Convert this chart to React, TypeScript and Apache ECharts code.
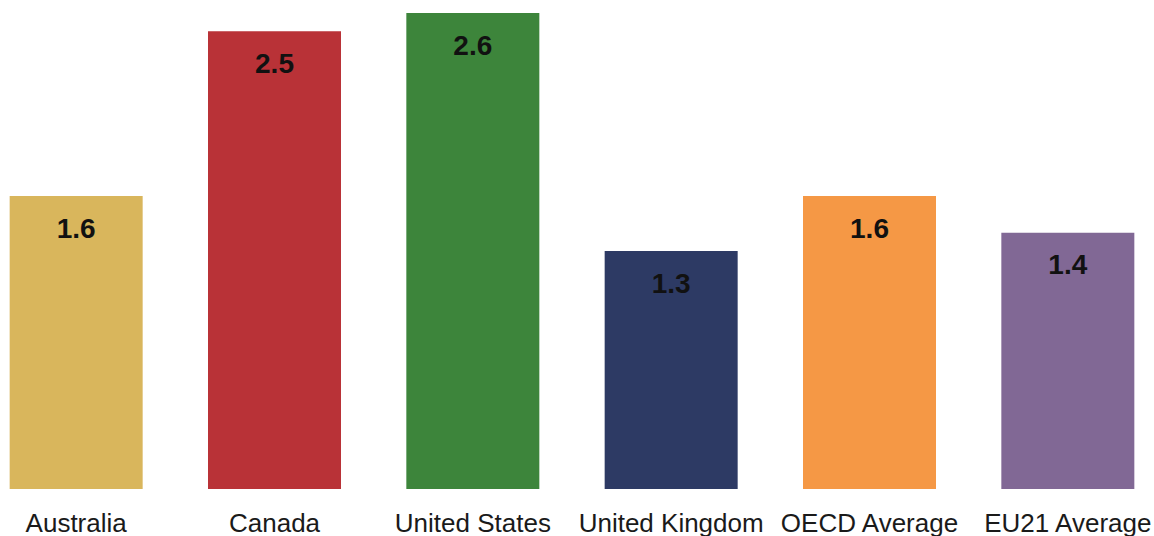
import React, { useEffect, useRef } from "react";
import * as echarts from "echarts";

// Countries / groups shown along the bottom
const categories = [
  "Australia",
  "Canada",
  "United States",
  "United Kingdom",
  "OECD Average",
  "EU21 Average",
];

// One value per category
const values = [1.6, 2.5, 2.6, 1.3, 1.6, 1.4];

// One fill per bar
const barColors = ["#D9B65C", "#B93237", "#3D853B", "#2D3A64", "#F59845", "#816895"];

export default function App() {
  const ref = useRef<HTMLDivElement>(null);

  useEffect(() => {
    document.body.style.margin = "0";
    document.body.style.overflow = "hidden";
    if (!ref.current) return;
    const chart = echarts.init(ref.current, undefined, { renderer: "svg" });

    chart.setOption({
      animation: false,
      backgroundColor: "#ffffff",
      grid: { left: 0, right: 0, top: 13, bottom: 46, containLabel: false },
      xAxis: {
        type: "category",
        data: categories,
        axisLine: { show: false },
        axisTick: { show: false },
        axisLabel: {
          interval: 0,
          margin: 23,
          lineHeight: 22,
          color: "#1a1a1a",
          fontSize: 26,
          fontFamily: "'Liberation Sans', Arial, sans-serif",
        },
      },
      yAxis: {
        type: "value",
        min: 0,
        max: 2.6,
        show: false,
        splitLine: { show: false },
      },
      series: [
        {
          type: "bar",
          barWidth: 133,
          data: values.map((v, i) => ({ value: v, itemStyle: { color: barColors[i] } })),
          label: {
            show: true,
            position: "insideTop",
            distance: 18,
            color: "#111111",
            fontSize: 28,
            fontWeight: "bold",
            fontFamily: "'Liberation Sans', Arial, sans-serif",
            formatter: (p: any) => Number(p.value).toFixed(1),
          },
        },
      ],
    });

    return () => chart.dispose();
  }, []);

  // The plot spans a little past both window edges so the outer bars sit near the sides
  return (
    <div
      ref={ref}
      style={{ position: "fixed", left: -22.6, top: 0, width: 1190, height: 536 }}
    />
  );
}
